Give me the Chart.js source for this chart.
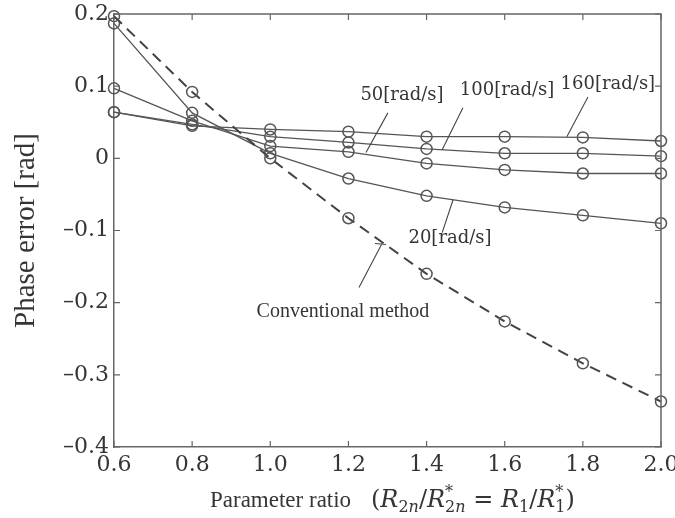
<!DOCTYPE html>
<html>
<head>
<meta charset="utf-8">
<script src="https://cdn.jsdelivr.net/npm/chart.js@4"></script>
<style>
  html, body { margin: 0; padding: 0; background: #fff; }
  #wrap { width: 675px; height: 518px; }
</style>
</head>
<body>
<div id="wrap"><canvas id="phase-chart" width="675" height="518"></canvas></div>
<script>
// Phase error vs parameter ratio

// Data
const ratios = [0.6, 0.8, 1.0, 1.2, 1.4, 1.6, 1.8, 2.0];
const conventional = [0.197, 0.092, 0.0, -0.083, -0.160, -0.226, -0.284, -0.337];
const speed20 = [0.187, 0.063, 0.007, -0.028, -0.052, -0.068, -0.079, -0.090];
const speed50 = [0.097, 0.052, 0.017, 0.009, -0.007, -0.016, -0.021, -0.021];
const speed100 = [0.064, 0.047, 0.030, 0.022, 0.013, 0.007, 0.007, 0.003];
const speed160 = [0.064, 0.045, 0.040, 0.037, 0.030, 0.030, 0.029, 0.024];

const xTicks = [0.6, 0.8, 1.0, 1.2, 1.4, 1.6, 1.8, 2.0];
const yTicks = [0.2, 0.1, 0, -0.1, -0.2, -0.3, -0.4];

const textColor = '#353535';
const lineColor = '#555';

// Curve labels with leader lines (in data units)
const annotations = [
    { text: '50[rad/s]', x: 1.337, y: 0.087, from: [1.301, 0.063], to: [1.245, 0.008], font: '18px "DejaVu Serif"' },
    { text: '100[rad/s]', x: 1.606, y: 0.094, from: [1.493, 0.070], to: [1.440, 0.012], font: '18px "DejaVu Serif"' },
    { text: '160[rad/s]', x: 1.864, y: 0.103, from: [1.813, 0.085], to: [1.759, 0.030], font: '18px "DejaVu Serif"' },
    { text: '20[rad/s]', x: 1.460, y: -0.111, from: [1.440, -0.103], to: [1.468, -0.057], font: '18px "DejaVu Serif"' },
    { text: 'Conventional method', x: 1.186, y: -0.213, from: [1.227, -0.179], to: [1.286, -0.118], font: '20px "Liberation Serif"', bar: true }
];

function toPoints(values) {
    return ratios.map((r, i) => ({ x: r, y: values[i] }));
}

function solidSeries(label, values) {
    return {
        label: label,
        data: toPoints(values),
        borderColor: lineColor,
        borderWidth: 1.3,
        pointRadius: 5.5,
        pointBorderWidth: 1.5,
        pointBorderColor: '#555',
        pointBackgroundColor: 'rgba(0,0,0,0)',
        tension: 0,
        clip: false
    };
}

function formatY(v) {
    if (Math.abs(v) < 1e-9) return '0';
    return (v < 0 ? '\u2013' : '') + Math.abs(v).toFixed(1);
}

// Frame, inward ticks, titles and curve labels
const figureExtras = {
    id: 'figureExtras',
    afterDraw(chart) {
        const ctx = chart.ctx;
        const area = chart.chartArea;
        const xs = chart.scales.x;
        const ys = chart.scales.y;
        const tick = 6;

        ctx.save();
        ctx.strokeStyle = '#666';
        ctx.lineWidth = 1.5;
        ctx.beginPath();
        ctx.moveTo(area.left, area.top);
        ctx.lineTo(area.right, area.top);
        ctx.lineTo(area.right, area.bottom);
        ctx.stroke();

        ctx.lineWidth = 1.2;
        ctx.beginPath();
        xTicks.forEach(v => {
            const px = xs.getPixelForValue(v);
            ctx.moveTo(px, area.bottom);
            ctx.lineTo(px, area.bottom - tick);
            ctx.moveTo(px, area.top);
            ctx.lineTo(px, area.top + tick);
        });
        yTicks.forEach(v => {
            const py = ys.getPixelForValue(v);
            ctx.moveTo(area.left, py);
            ctx.lineTo(area.left + tick, py);
            ctx.moveTo(area.right, py);
            ctx.lineTo(area.right - tick, py);
        });
        ctx.stroke();

        // leader lines and labels
        ctx.strokeStyle = '#444';
        ctx.lineWidth = 1.1;
        ctx.fillStyle = textColor;
        ctx.textAlign = 'center';
        ctx.textBaseline = 'middle';
        annotations.forEach(a => {
            const x1 = xs.getPixelForValue(a.from[0]);
            const y1 = ys.getPixelForValue(a.from[1]);
            const x2 = xs.getPixelForValue(a.to[0]);
            const y2 = ys.getPixelForValue(a.to[1]);
            ctx.beginPath();
            ctx.moveTo(x1, y1);
            ctx.lineTo(x2, y2);
            if (a.bar) {
                ctx.moveTo(x2 - 7, y2);
                ctx.lineTo(x2 + 4, y2 + 1);
            }
            ctx.stroke();
            ctx.font = a.font;
            ctx.fillText(a.text, xs.getPixelForValue(a.x), ys.getPixelForValue(a.y));
        });

        // y axis title
        ctx.save();
        ctx.translate(26, (area.top + area.bottom) / 2);
        ctx.rotate(-Math.PI / 2);
        ctx.font = '29px "Liberation Serif"';
        ctx.fillText('Phase error [rad]', 0, 0);
        ctx.restore();

        // x axis title with the ratio expression
        const base = 507;
        let cx = 210;
        ctx.textAlign = 'left';
        ctx.textBaseline = 'alphabetic';
        const piece = (txt, font, dy) => {
            ctx.font = font;
            ctx.fillText(txt, cx, base + (dy || 0));
            cx += ctx.measureText(txt).width;
        };
        const main = '23px "Liberation Serif"';
        const ital = 'italic 24px "DejaVu Serif"';
        const up = '24px "DejaVu Serif"';
        const sub = '16px "DejaVu Serif"';
        const subI = 'italic 16px "DejaVu Serif"';
        piece('Parameter ratio', main);
        cx = 371;
        piece('(', up);
        piece('R', ital);
        piece('2', sub, 5); piece('n', subI, 5);
        piece('/', up);
        piece('R', ital);
        let sx = cx;
        piece('*', sub, -10);
        cx = sx;
        piece('2', sub, 5); piece('n', subI, 5);
        piece(' = ', up);
        piece('R', ital);
        piece('1', sub, 5);
        piece('/', up);
        piece('R', ital);
        sx = cx;
        piece('*', sub, -10);
        cx = sx;
        piece('1', sub, 5);
        piece(')', up);
        ctx.restore();
    }
};

function initChart() {
    const ctx = document.getElementById('phase-chart').getContext('2d');
    return new Chart(ctx, {
        type: 'line',
        data: {
            datasets: [
                {
                    label: 'Conventional method',
                    data: toPoints(conventional),
                    borderColor: '#444',
                    borderWidth: 2,
                    borderDash: [11, 7],
                    pointRadius: 5.5,
                    pointBorderWidth: 1.5,
                    pointBorderColor: '#555',
                    pointBackgroundColor: 'rgba(0,0,0,0)',
                    tension: 0,
                    clip: false
                },
                solidSeries('20[rad/s]', speed20),
                solidSeries('50[rad/s]', speed50),
                solidSeries('100[rad/s]', speed100),
                solidSeries('160[rad/s]', speed160)
            ]
        },
        options: {
            responsive: false,
            animation: false,
            layout: { padding: { top: 14, right: 14, left: 0, bottom: 0 } },
            plugins: {
                legend: { display: false },
                tooltip: { enabled: false }
            },
            scales: {
                x: {
                    type: 'linear',
                    min: 0.6,
                    max: 2.0,
                    afterBuildTicks: (scale) => {
                        scale.ticks = xTicks.map(v => ({ value: v }));
                    },
                    afterFit: (scale) => {
                        scale.height = 71;
                        scale.paddingLeft = 0;
                        scale.paddingRight = 0;
                    },
                    grid: { drawOnChartArea: false, drawTicks: false },
                    border: { display: true, color: '#666', width: 1.5 },
                    ticks: {
                        padding: 5,
                        color: textColor,
                        font: { family: '"DejaVu Serif"', size: 22 },
                        maxRotation: 0,
                        autoSkip: false,
                        callback: (v) => Number(v).toFixed(1)
                    }
                },
                y: {
                    type: 'linear',
                    min: -0.4,
                    max: 0.2,
                    afterBuildTicks: (scale) => {
                        scale.ticks = yTicks.map(v => ({ value: v }));
                    },
                    afterFit: (scale) => {
                        scale.width = 114;
                        scale.paddingTop = 0;
                        scale.paddingBottom = 0;
                    },
                    grid: { drawOnChartArea: false, drawTicks: false },
                    border: { display: true, color: '#666', width: 1.5 },
                    ticks: {
                        padding: 5,
                        color: textColor,
                        font: { family: '"DejaVu Serif"', size: 22 },
                        autoSkip: false,
                        callback: (v) => formatY(v)
                    }
                }
            }
        },
        plugins: [figureExtras]
    });
}

document.addEventListener('DOMContentLoaded', () => {
    initChart();
});
</script>
</body>
</html>
